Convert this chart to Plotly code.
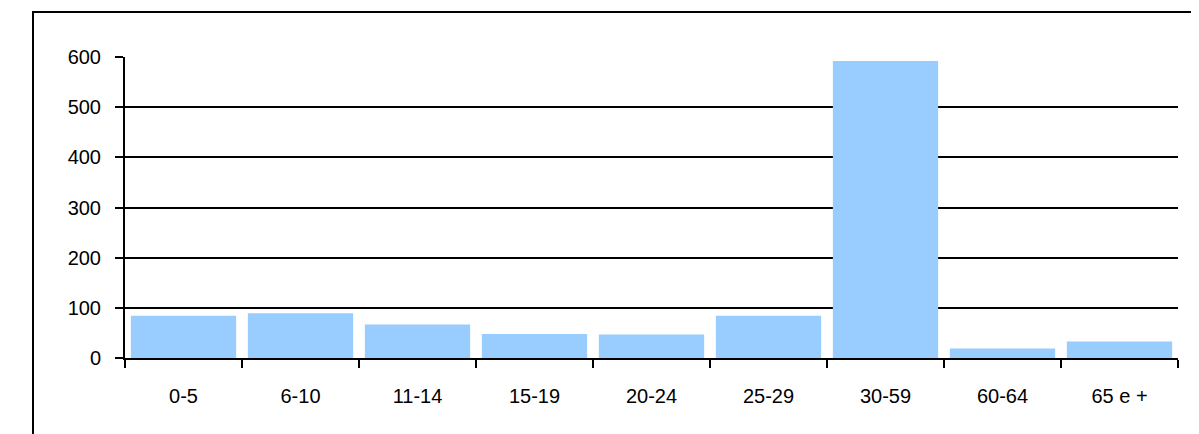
import plotly.graph_objects as go

categories = ["0-5", "6-10", "11-14", "15-19", "20-24", "25-29", "30-59", "60-64", "65 e +"]
values = [84, 89, 67, 48, 47, 84, 592, 19, 33]
y_ticks = [0, 100, 200, 300, 400, 500, 600]

W, H = 1199, 434
OFF = 8  # page offset of the figure
L, R, T, B = 125 - OFF, 21 + OFF, 57 - OFF, 75.5 + OFF
pw = W - L - R
ph = H - T - B

font_family = "Liberation Sans, Arial, sans-serif"

fig = go.Figure()
fig.add_trace(go.Bar(
    x=categories, y=values,
    marker=dict(color="#99CCFF", line=dict(width=0)),
    hoverinfo="x+y",
))

# outer chart border (left/top visible, right/bottom beyond the frame)
x0 = (33 - OFF - L) / pw
y1 = (H - B - (12 - OFF)) / ph
fig.add_shape(type="rect", xref="paper", yref="paper",
              x0=x0, x1=1.2, y0=-0.6, y1=y1,
              line=dict(color="#000000", width=2), layer="below")

fig.update_layout(
    width=W, height=H,
    margin=dict(l=L, r=R, t=T, b=B),
    paper_bgcolor="white", plot_bgcolor="white",
    bargap=0.1,
    showlegend=False,
    font=dict(family=font_family, size=20, color="#000000"),
)
fig.update_xaxes(
    type="category", range=[-0.5, 8.5],
    showline=True, linecolor="#000000", linewidth=2,
    ticks="outside", tickson="boundaries", ticklen=8, tickwidth=2, tickcolor="#000000",
    showgrid=False, ticklabelstandoff=19,
    tickfont=dict(family=font_family, size=20, color="#000000"),
)
fig.update_yaxes(
    range=[0, 600], tickvals=y_ticks,
    showline=True, linecolor="#000000", linewidth=2,
    ticks="outside", ticklen=8, tickwidth=2, tickcolor="#000000",
    showgrid=True, gridcolor="#000000", gridwidth=2,
    zeroline=False, ticklabelstandoff=10,
    tickfont=dict(family=font_family, size=20, color="#000000"),
)

fig.write_html("out.html")
